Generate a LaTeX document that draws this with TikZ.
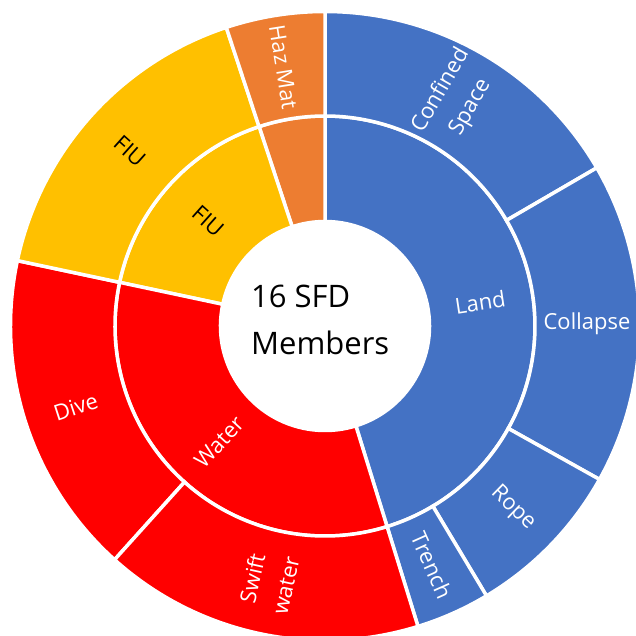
\documentclass[tikz,border=0pt]{standalone}
\usepackage{fontspec}
\setmainfont{Open Sans}
\definecolor{cblue}{HTML}{4472C4}
\definecolor{cred}{HTML}{FF0000}
\definecolor{cyellow}{HTML}{FFC000}
\definecolor{corange}{HTML}{ED7D31}
\newcommand\ringsector[5]{\path[seg, fill=#1] (#2:#4pt) arc[start angle=#2, end angle=#3, radius=#4pt] -- (#3:#5pt) arc[start angle=#3, end angle=#2, radius=#5pt] -- cycle;}
\begin{document}
\begin{tikzpicture}[x=1pt,y=1pt,
  seg/.style={draw=white, line width=3.5pt, line join=miter},
  lbl/.style={font=\fontsize{22}{34}\selectfont, text=white, align=center, inner sep=0pt},
  lbldark/.style={lbl, text=black}]
\clip (-325,-309) rectangle (311,326);
\fill[white] (-325,-309) rectangle (311,326);
% inner ring
\ringsector{cblue}{-72.8}{90}{104.5}{210}
\ringsector{corange}{90}{108.3}{104.5}{210}
\ringsector{cyellow}{108.3}{168}{104.5}{210}
\ringsector{cred}{168}{287.2}{104.5}{210}
% outer ring
\ringsector{cblue}{30.2}{90}{210}{314.5}
\ringsector{cblue}{-29.2}{30.2}{210}{314.5}
\ringsector{cblue}{-59.1}{-29.2}{210}{314.5}
\ringsector{cblue}{-72.8}{-59.1}{210}{314.5}
\ringsector{cred}{168}{228}{210}{314.5}
\ringsector{cred}{228}{287.2}{210}{314.5}
\ringsector{cyellow}{108.3}{168}{210}{314.5}
\ringsector{corange}{90}{108.3}{210}{314.5}
% center text
\node (center) [anchor=west, align=left, inner sep=0pt, font=\fontsize{31}{47}\selectfont] at (-74,6) {16 SFD\\Members};
% inner labels
\node (land) [lbl, rotate=8.6] at (8.6:157pt) {Land};
\node (water) [lbl, rotate=47.6] at (227.6:157pt) {Water};
\node (fiuin) [lbldark, rotate=-41.85] at (138.15:157pt) {FIU};
% outer labels
\node (confined) [lbl, rotate=60.1] at (60.1:262pt) {Confined\\Space};
\node (collapse) [lbl, rotate=0.5] at (0.5:262pt) {Collapse};
\node (rope) [lbl, rotate=-44.15] at (-44.15:262pt) {Rope};
\node (trench) [lbl, rotate=-65.95] at (-65.95:262pt) {Trench};
\node (swift) [lbl, rotate=77.6] at (257.6:262pt) {Swift\\water};
\node (dive) [lbl, rotate=18] at (198:262pt) {Dive};
\node (fiuout) [lbldark, rotate=-41.85] at (138.15:262pt) {FIU};
\node (hazmat) [lbl, rotate=-80.85] at (99.15:262pt) {Haz Mat};
\end{tikzpicture}
\end{document}
